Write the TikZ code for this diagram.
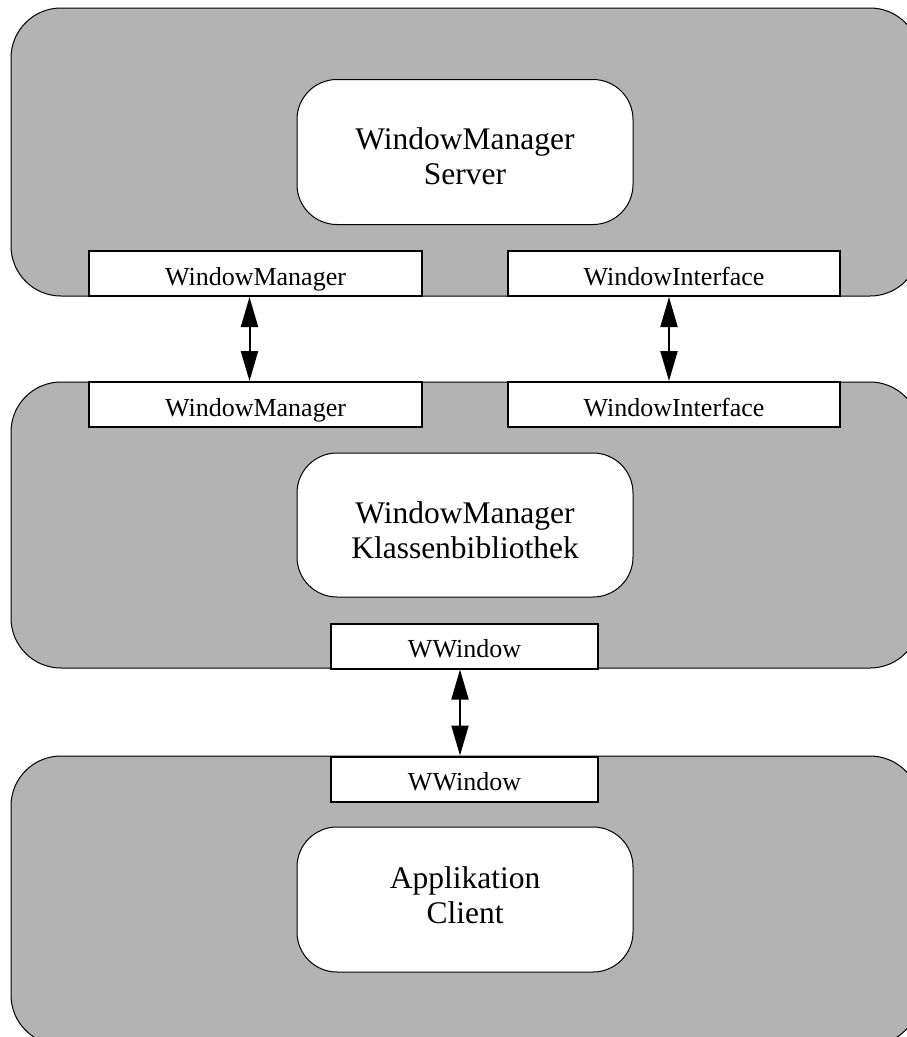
\documentclass[tikz,border=0pt]{standalone}
\usepackage{fontspec}
\setmainfont{Liberation Serif}
\usetikzlibrary{arrows.meta}
\definecolor{panelgray}{RGB}{179,179,179}
\tikzset{
  panel/.style={draw=black, fill=panelgray, line width=1pt, rounded corners=50pt},
  compbox/.style={draw=black, fill=white, line width=1pt, rounded corners=40pt,
    minimum width=336pt, minimum height=145pt, inner sep=0pt, align=center,
    font=\fontsize{31.5}{35}\selectfont},
  portbox/.style={draw=black, fill=white, line width=2pt, inner sep=0pt,
    minimum height=45pt, text height=23pt, text depth=0pt,
    font=\fontsize{26}{28}\selectfont},
  link/.style={line width=2pt,
    {Triangle[length=30pt,width=17pt]}-{Triangle[length=30pt,width=17pt]}}
}
\begin{document}
\begin{tikzpicture}[x=1pt,y=-1pt]
  \useasboundingbox (0,0) rectangle (907,1037);
  \clip (0,0) rectangle (907,1037);

  % three layers
  \draw[panel] (11,8) rectangle (920,296);
  \draw[panel] (11,382) rectangle (920,668);
  \draw[panel] (11,756) rectangle (920,1045);

  % components (text height/depth place the last baseline within the box)
  \node[compbox, text height=64pt, text depth=0pt] (server) at (465,152)
    {WindowManager\\Server};
  \node[compbox, text height=66pt, text depth=0pt, minimum height=144pt] (lib) at (465,525)
    {WindowManager\\Klassenbibliothek};
  \node[compbox, text height=47pt, text depth=0pt] (app) at (465,899.5)
    {Applikation\\Client};

  % interfaces
  \node[portbox, minimum width=333pt] (wmS) at (255.5,273.5) {WindowManager};
  \node[portbox, minimum width=332pt] (wiS) at (674,273.5) {WindowInterface};
  \node[portbox, minimum width=333pt] (wmL) at (255.5,404.5) {WindowManager};
  \node[portbox, minimum width=332pt] (wiL) at (674,404.5) {WindowInterface};
  \node[portbox, minimum width=267pt] (wwL) at (464.5,646) {WWindow};
  \node[portbox, minimum width=267pt] (wwA) at (464.5,779) {WWindow};

  % connections
  \draw[link] ([xshift=-6pt]wmS.south) -- ([xshift=-6pt]wmL.north);
  \draw[link] ([xshift=-5pt]wiS.south) -- ([xshift=-5pt]wiL.north);
  \draw[link] ([xshift=-4.5pt]wwL.south) -- ([xshift=-4.5pt]wwA.north);
\end{tikzpicture}
\end{document}
